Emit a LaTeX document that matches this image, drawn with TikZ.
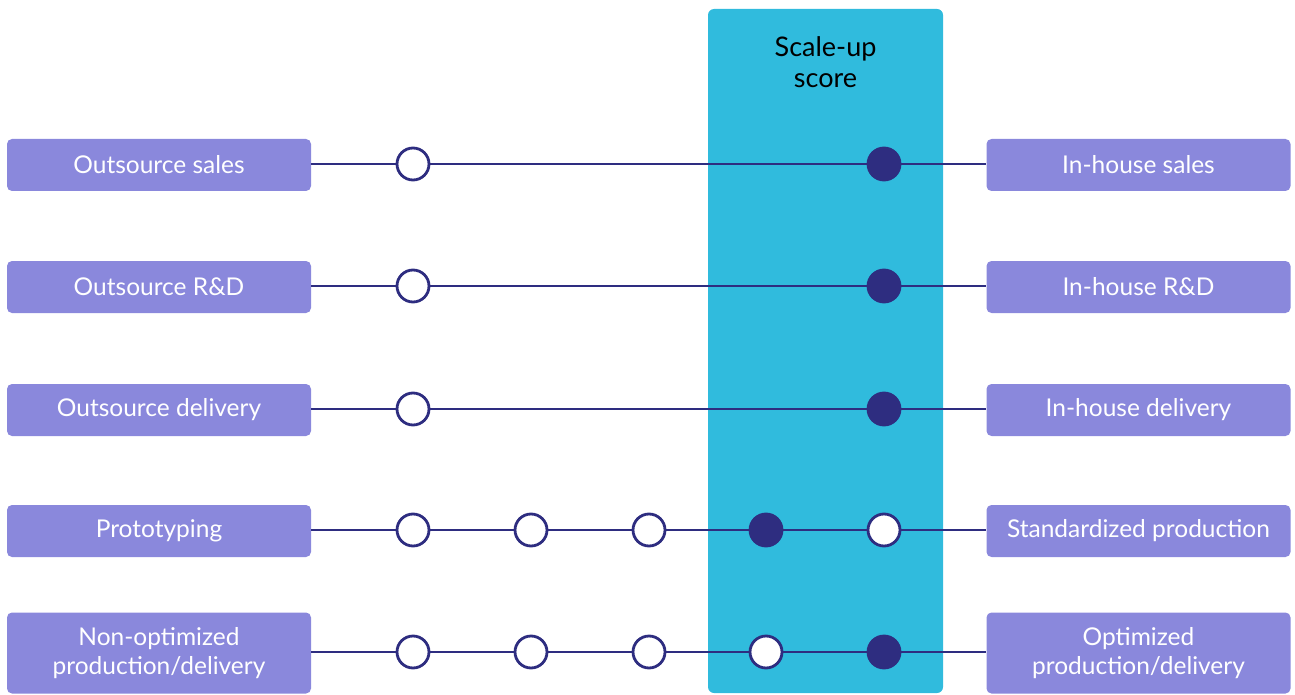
\documentclass[tikz,border=0pt]{standalone}
\usepackage{fontspec}
\setmainfont{Lato}
\definecolor{cyanbg}{HTML}{30BBDD}
\definecolor{boxfill}{HTML}{8A88DC}
\definecolor{navy}{HTML}{2E2D80}
\begin{document}
\begin{tikzpicture}[x=1pt,y=-1pt,
  labelbox/.style={draw=none,fill=boxfill,rounded corners=5pt,minimum width=304pt,text=white,font=\fontsize{24.5}{29}\selectfont,align=center,inner sep=0pt},
  openc/.style={circle,draw=navy,line width=2.8pt,fill=white,minimum size=32pt,inner sep=0pt},
  fullc/.style={circle,draw=navy,line width=2.8pt,fill=navy,minimum size=32pt,inner sep=0pt},
  conn/.style={draw=navy,line width=2.8pt}]
\useasboundingbox (0,0) rectangle (1295,695);
\node[fill=cyanbg,rounded corners=6pt,minimum width=235pt,minimum height=684pt,inner sep=0pt] (score) at (825.5,351) {};
\node[font=\fontsize{27}{31}\selectfont,align=center,text=black] (title) at (825.5,62) {Scale-up\\score};
% rows
\foreach \r/\y/\lt/\rt/\h in {1/164/{Outsource sales}/{In-house sales}/52,
  2/286/{Outsource R\&D}/{In-house R\&D}/52,
  3/409/{Outsource delivery}/{In-house delivery}/52,
  4/530/{Prototyping}/{Standardized production}/52,
  5/652/{Non-optimized\\production/delivery}/{Optimized\\production/delivery}/81}{
  \node[labelbox,minimum height=\h pt] (L\r) at (159,\y+1) {\lt};
  \node[labelbox,minimum height=\h pt] (R\r) at (1138.5,\y+1) {\rt};
}
% circles
\node[openc] (c11) at (413,164) {};
\node[fullc] (c15) at (884,164) {};
\node[openc] (c21) at (413,286) {};
\node[fullc] (c25) at (884,286) {};
\node[openc] (c31) at (413,409) {};
\node[fullc] (c35) at (884,409) {};
\node[openc] (c41) at (413,530) {};
\node[openc] (c42) at (531,530) {};
\node[openc] (c43) at (649,530) {};
\node[fullc] (c44) at (766,530) {};
\node[openc] (c45) at (884,530) {};
\node[openc] (c51) at (413,652) {};
\node[openc] (c52) at (531,652) {};
\node[openc] (c53) at (649,652) {};
\node[openc] (c54) at (766,652) {};
\node[fullc] (c55) at (884,652) {};
% connectors
\draw[conn] (L1.east |- c11) -- (c11) -- (c15) -- (R1.west |- c15);
\draw[conn] (L2.east |- c21) -- (c21) -- (c25) -- (R2.west |- c25);
\draw[conn] (L3.east |- c31) -- (c31) -- (c35) -- (R3.west |- c35);
\draw[conn] (L4.east |- c41) -- (c41) -- (c42) -- (c43) -- (c44) -- (c45) -- (R4.west |- c45);
\draw[conn] (L5.east |- c51) -- (c51) -- (c52) -- (c53) -- (c54) -- (c55) -- (R5.west |- c55);
\end{tikzpicture}
\end{document}
